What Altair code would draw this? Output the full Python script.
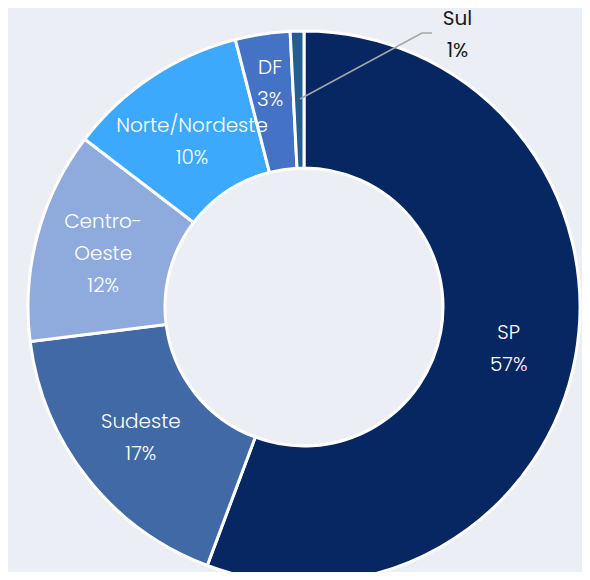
import altair as alt
import pandas as pd

regions = ["SP", "Sudeste", "Centro-Oeste", "Norte/Nordeste", "DF", "Sul"]
# slice sizes
shares = [55.7, 17.3, 12.4, 10.6, 3.2, 0.8]
label_lines = [["SP", "57%"], ["Sudeste", "17%"], ["Centro-", "Oeste", "12%"],
               ["Norte/Nordeste", "10%"], ["DF", "3%"], ["Sul", "1%"]]
colors = ["#072763", "#4169a5", "#8faadc", "#3ca9fd", "#4472c4", "#255e91"]

df = pd.DataFrame({"region": regions, "share": shares, "ord": list(range(len(regions))),
                   "label": label_lines})

CX, CY = 296, 299
FONT = "Poppins, Inter"
FS = 20

base = alt.Chart(df).encode(
    theta=alt.Theta("share:Q", stack=True),
    order=alt.Order("ord:Q"),
    x=alt.value(CX), y=alt.value(CY),
)

arcs = base.mark_arc(innerRadius=139, outerRadius=276, stroke="white", strokeWidth=3).encode(
    color=alt.Color("region:N", scale=alt.Scale(domain=regions, range=colors), legend=None),
)


def label_layer(names, radius, dy, dx=0, color="white", weight=300):
    return base.mark_text(radius=radius, font=FONT, fontSize=FS, fontWeight=weight, color=color,
                          lineHeight=32, baseline="middle", align="center",
                          dx=dx, dy=dy).encode(
        text=alt.condition(alt.FieldOneOfPredicate(field="region", oneOf=names),
                           alt.Text("label:N"), alt.value("")),
    )


lab_sp = label_layer(["SP"], 208, -11)
lab_sud = label_layer(["Sudeste"], 208, -14)
lab_norte = label_layer(["Norte/Nordeste"], 203, -12)
lab_centro = label_layer(["Centro-Oeste"], 208, -31)
lab_df = label_layer(["DF"], 226, -16)
lab_sul = label_layer(["Sul"], 300, 12, dx=161, color="#1a1a1a", weight=400)

lead1 = alt.Chart(df.head(1)).mark_rule(color="#a6a6a6", strokeWidth=1.5).encode(
    x=alt.value(292), y=alt.value(91), x2=alt.value(414), y2=alt.value(25))
lead2 = alt.Chart(df.head(1)).mark_rule(color="#a6a6a6", strokeWidth=1.5).encode(
    x=alt.value(414), y=alt.value(25), x2=alt.value(424), y2=alt.value(25))

chart = alt.layer(arcs, lab_sp, lab_sud, lab_norte, lab_centro, lab_df,
                  lead1, lead2, lab_sul).properties(
    width=574, height=564, padding=0, autosize="none", background="#ebeef5"
).configure_view(stroke=None)

chart.save("out.html", embed_options={"renderer": "svg", "actions": False})
